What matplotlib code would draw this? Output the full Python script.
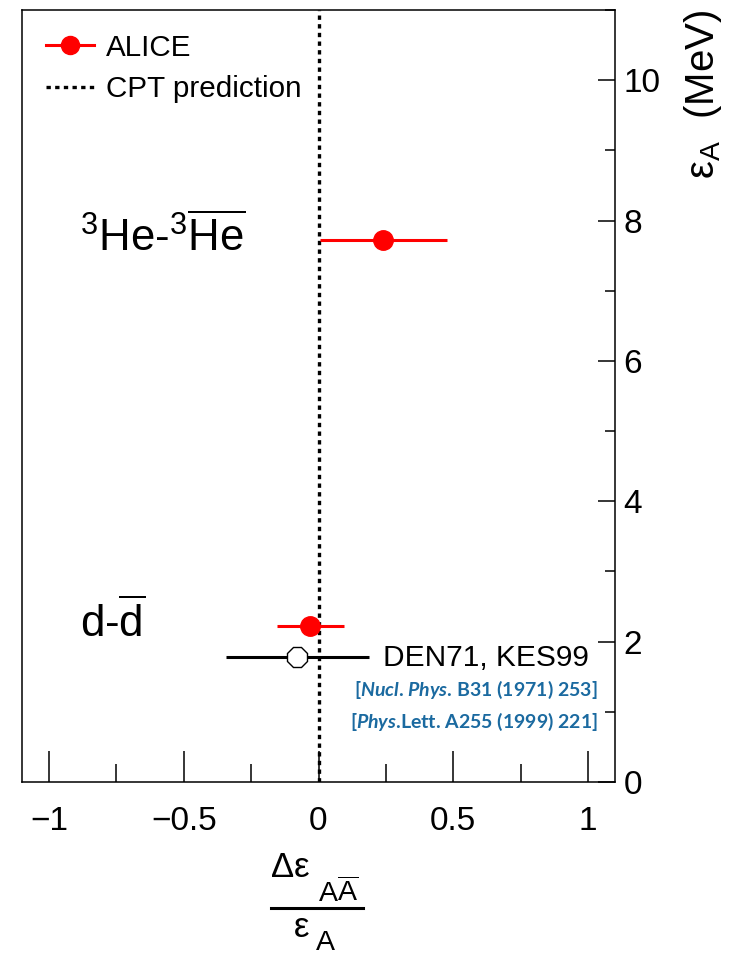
import matplotlib
matplotlib.use('Agg')
import matplotlib.pyplot as plt
from matplotlib.lines import Line2D
from matplotlib.ticker import MultipleLocator

plt.rcParams['font.family'] = ['Liberation Sans', 'DejaVu Sans']
plt.rcParams['mathtext.fontset'] = 'custom'
plt.rcParams['mathtext.rm'] = 'Liberation Sans'
plt.rcParams['mathtext.it'] = 'Liberation Sans:italic'
plt.rcParams['mathtext.bf'] = 'Liberation Sans:bold'
try:
    plt.rcParams['mathtext.bfit'] = 'Lato:italic:bold'
except KeyError:
    pass

# ---- data ----
alice_x = [0.24, -0.03]
alice_xerr = [0.235, 0.125]
alice_y = [7.718, 2.224]
ref_x = [-0.078]
ref_xerr = [0.265]
ref_y = [1.78]
cpt_x = 0.0
nuclei_labels = [r'$^{3}$He-$^{3}\overline{\mathrm{He}}$', r'd-$\overline{\mathrm{d}}$']
nuclei_label_pos = [(-0.885, 7.57), (-0.885, 2.07)]
ref_label = 'DEN71, KES99'
ref_citations = [r'[$\mathbfit{Nucl}$. $\mathbfit{Phys}$. B31 (1971) 253]',
                 r'[$\mathbfit{Phys}$.Lett. A255 (1999) 221]']
xticks = [-1, -0.5, 0, 0.5, 1]
xticklabels = ['\u22121', '\u22120.5', '0', '0.5', '1']
yticks = [0, 2, 4, 6, 8, 10]

fig = plt.figure(figsize=(7.37, 9.56), dpi=100)
W, H = 737, 956
ax = fig.add_axes([22 / W, 1 - 782 / H, (615 - 22) / W, (782 - 10) / H])

ax.set_xlim(-1.1, 1.1)
ax.set_ylim(0, 11)

# CPT line
ax.axvline(cpt_x, color='black', lw=2.4, linestyle=(0, (1.3, 1.3)), zorder=1)

# reference measurement
ax.errorbar(ref_x, ref_y, xerr=ref_xerr, fmt='8', color='black', ms=15,
            mfc='white', mec='black', mew=1.0, elinewidth=2.2, capsize=0, zorder=3)

# ALICE
ax.errorbar(alice_x, alice_y, xerr=alice_xerr, fmt='o', color='red', ms=14,
            elinewidth=2.2, capsize=0, zorder=4)

# text labels
for lab, (lx, ly) in zip(nuclei_labels, nuclei_label_pos):
    ax.text(lx, ly, lab, fontsize=31.5, ha='left', va='baseline')
ax.text(0.24, 1.77, ref_label, fontsize=21.5, ha='left', va='center')
blue = '#1b6aa0'
ax.text(1.037, 1.31, ref_citations[0], fontsize=14, ha='right', va='center',
        color=blue, family=['Lato', 'DejaVu Sans'], fontweight='bold')
ax.text(1.037, 0.86, ref_citations[1], fontsize=14, ha='right', va='center',
        color=blue, family=['Lato', 'DejaVu Sans'], fontweight='bold')

# legend
h_alice = Line2D([], [], color='red', lw=2.2, marker='o', ms=13)
h_cpt = Line2D([], [], color='black', lw=2.4, linestyle=(0, (1.3, 1.3)))
ax.legend([h_alice, h_cpt], ['ALICE', 'CPT prediction'],
          loc='upper left', bbox_to_anchor=(0.0, 1.0), frameon=False,
          fontsize=21.3, handlelength=1.65, labelspacing=0.45, borderpad=0.5,
          handletextpad=0.4, borderaxespad=0.3)

# ticks
ax.set_xticks(xticks)
ax.set_xticklabels(xticklabels)
ax.xaxis.set_minor_locator(MultipleLocator(0.25))
ax.set_yticks(yticks)
ax.yaxis.set_minor_locator(MultipleLocator(1))
ax.yaxis.tick_right()
ax.tick_params(axis='x', which='major', direction='in', length=22, width=1.1,
               labelsize=24, pad=17, top=False, bottom=True)
ax.tick_params(axis='x', which='minor', direction='in', length=13, width=1.1,
               top=False, bottom=True)
ax.tick_params(axis='y', which='major', direction='in', length=12, width=1.1,
               labelsize=24, pad=6, left=False, right=True)
ax.tick_params(axis='y', which='minor', direction='in', length=7, width=1.1,
               left=False, right=True)
for s in ax.spines.values():
    s.set_linewidth(1.1)

# y label (right side)
fig.text(703 / W, 1 - 9 / H, 'ε$_{\\mathrm{A}}$  (MeV)', fontsize=29,
         rotation=90, ha='center', va='top')

# x label (fraction)
fig.text(271 / W, 1 - 877 / H, 'Δε', fontsize=25, ha='left', va='baseline')
fig.text(318 / W, 1 - 902 / H, r'$\mathrm{A\overline{A}}$', fontsize=20.5,
         ha='left', va='baseline')
fig.add_artist(Line2D([271 / W, 363 / W], [1 - 908 / H, 1 - 908 / H],
                      transform=fig.transFigure, color='black', lw=2.2))
fig.text(294 / W, 1 - 937 / H, 'ε', fontsize=25, ha='left', va='baseline')
fig.text(316 / W, 1 - 950 / H, 'A', fontsize=20.5, ha='left', va='baseline')

fig.savefig('out.png', dpi=100)
